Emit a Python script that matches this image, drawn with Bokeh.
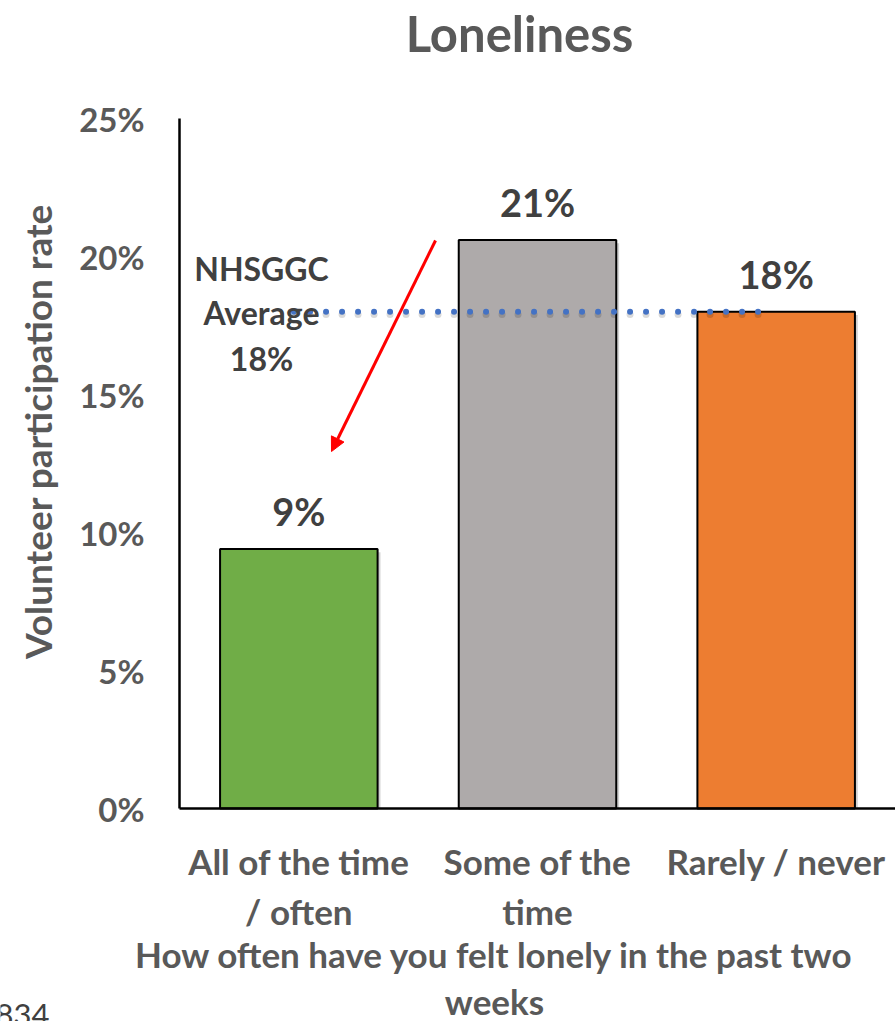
from math import pi

from bokeh.core.properties import value
from bokeh.embed import file_html
from bokeh.models import (Arrow, ColumnDataSource, FixedTicker, Label, LabelSet,
                          NormalHead, PrintfTickFormatter, Range1d)
from bokeh.plotting import figure
from bokeh.resources import INLINE
from bokeh.transform import dodge

# ---- data -------------------------------------------------------------
categories = ["All of the time\n/ often", "Some of the\ntime", "Rarely / never"]
participation = [9.4, 20.6, 18.0]          # volunteer participation rate, %
bar_colors = ["#70AD47", "#AEAAAA", "#ED7D31"]
nhsggc_average = 18.0                       # board-wide average, %
y_ticks = [0, 5, 10, 15, 20, 25]
chart_title = "Loneliness"
y_title = "Volunteer participation rate"
x_title_lines = ["How often have you felt lonely in the past two", "weeks"]
footnote = "834"

# ---- canvas geometry --------------------------------------------------
# The plotting frame fills the whole canvas; the axes are pinned at the
# data origin so that every annotation (titles included) can live in it.
W, H = 895, 1021
LEFT, TOP, BOTTOM = 179, 118, 808        # pixel position of the value axes
X0, X1 = -0.5, 2.5                        # category span along the x axis
Y0, Y1 = 0, 25                            # value span along the y axis
FONT = "Lato"
GREY = "#595959"
DARK = "#404040"


def xd(px):
    """canvas pixel column -> data x"""
    return X0 + (px - LEFT) / (W - LEFT) * (X1 - X0)


def yd(py):
    """canvas pixel row -> data y"""
    return Y0 + (BOTTOM - py) / (BOTTOM - TOP) * (Y1 - Y0)


xs = list(range(len(categories)))
src = ColumnDataSource(dict(
    x=xs,
    rate=participation,
    shadow_top=[v - 0.12 for v in participation],
    color=bar_colors,
    label=[f"{v:.0f}%" for v in participation],
))

p = figure(width=W, height=H, output_backend="svg", toolbar_location=None,
           x_range=Range1d(xd(0), xd(W)), y_range=Range1d(yd(H), yd(0)),
           min_border=0, background_fill_color="white",
           border_fill_color="white", outline_line_color=None)
p.grid.visible = False

# ---- axes -------------------------------------------------------------
p.yaxis.fixed_location = X0
p.yaxis.bounds = (Y0, Y1)
p.yaxis.ticker = FixedTicker(ticks=y_ticks)
p.yaxis.formatter = PrintfTickFormatter(format="%d%%")
p.xaxis.fixed_location = Y0
p.xaxis.bounds = (X0, X1)
p.xaxis.ticker = FixedTicker(ticks=xs)
p.xaxis.major_label_overrides = {i: c for i, c in zip(xs, categories)}
for ax in (p.xaxis, p.yaxis):
    ax.axis_line_color = "black"
    ax.axis_line_width = 2.5
    ax.major_tick_line_color = None
    ax.minor_tick_line_color = None
    ax.major_label_text_font = FONT
    ax.major_label_text_font_style = "bold"
    ax.major_label_text_color = GREY
p.yaxis.major_label_text_font_size = "33px"
p.yaxis.major_label_standoff = 29
p.xaxis.major_label_text_font_size = "35px"
p.xaxis.major_label_standoff = 25
p.xaxis.major_label_text_line_height = 1.2

# ---- bars -------------------------------------------------------------
p.vbar(x=dodge("x", 0.012, range=p.x_range), top="shadow_top", width=0.66,
       source=src, fill_color="#000000", fill_alpha=0.18, line_color=None)
p.vbar(x="x", top="rate", width=0.66, source=src, fill_color="color",
       line_color="black", line_width=2)

labels = LabelSet(x="x", y="rate", text="label", source=src, y_offset=23,
                  text_align="center", text_baseline="alphabetic",
                  text_font=value(FONT), text_font_style="bold",
                  text_font_size="38px", text_color=DARK)
p.add_layout(labels)

# ---- NHSGGC average reference -----------------------------------------
avg_x = [-0.02, 1.96]
p.line(x=avg_x, y=[nhsggc_average - 0.1] * 2, line_color="#000000",
       line_alpha=0.15, line_width=7, line_dash="0 16", line_cap="round")
p.line(x=avg_x, y=[nhsggc_average] * 2, line_color="#4472C4",
       line_width=6, line_dash="0 16", line_cap="round")

for txt, py in zip(["NHSGGC", "Average", f"{nhsggc_average:.0f}%"], [268, 312, 358]):
    p.add_layout(Label(x=xd(261), y=yd(py), text=txt, text_align="center",
                       text_baseline="middle", text_font=FONT,
                       text_font_style="bold", text_font_size="32px",
                       text_color=DARK))

# pointer from the average note to the lowest bar
p.add_layout(Arrow(x_start=xd(435), y_start=yd(240), x_end=xd(331), y_end=yd(451),
                   line_color="#FF0000", line_width=3,
                   end=NormalHead(size=14, fill_color="#FF0000",
                                  line_color="#FF0000")))

# ---- titles -----------------------------------------------------------
p.add_layout(Label(x=xd(519), y=yd(32), text=chart_title, text_align="center",
                   text_baseline="middle", text_font=FONT, text_font_style="bold",
                   text_font_size="49px", text_color=GREY))

p.add_layout(Label(x=xd(37), y=yd(431), text=y_title, angle=pi / 2,
                   text_align="center", text_baseline="middle", text_font=FONT,
                   text_font_style="bold", text_font_size="37px", text_color=GREY))

for txt, py in zip(x_title_lines, [953, 1000]):
    p.add_layout(Label(x=xd(494), y=yd(py), text=txt, text_align="center",
                       text_baseline="middle", text_font=FONT,
                       text_font_style="bold", text_font_size="35px",
                       text_color=GREY))

p.add_layout(Label(x=xd(49), y=yd(1003), text=footnote, text_align="right",
                   text_baseline="top", text_font=FONT,
                   text_font_size="31px", text_color=DARK))

open("out.html", "w").write(file_html(p, INLINE))
